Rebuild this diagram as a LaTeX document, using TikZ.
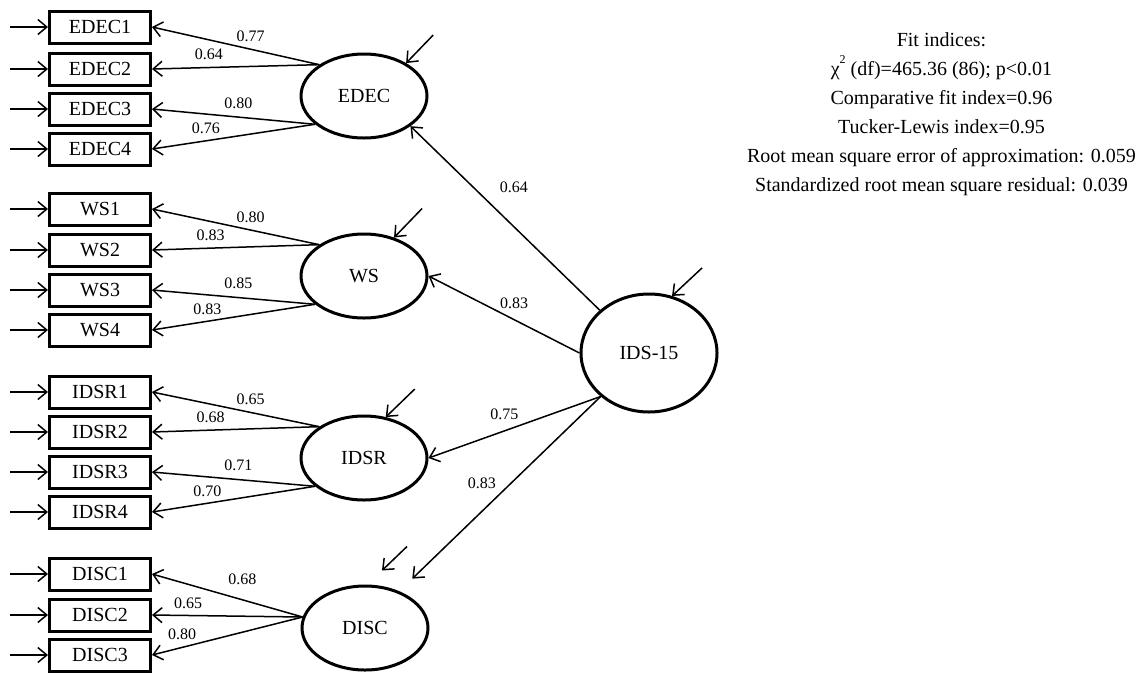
\documentclass[tikz,border=0pt]{standalone}
\usepackage{fontspec}
\setmainfont{Liberation Serif}
\usetikzlibrary{arrows.meta,calc,positioning,shapes}
\tikzstyle{indicator}=[
  draw, rectangle, line width=3pt,
  minimum width=101pt, minimum height=32pt, inner sep=0pt,
  font=\fontsize{20}{24}\selectfont,
]
\tikzstyle{factor}=[
  draw, ellipse, line width=3pt,
  minimum width=126pt, minimum height=84pt, inner sep=0pt,
  font=\fontsize{20}{24}\selectfont,
]
\tikzstyle{arrow}=[
  ->, line width=1.5pt,
]
\tikzstyle{coef}=[
  font=\fontsize{16}{18}\selectfont, inner sep=2pt,
]
\tikzset{
  >={Straight Barb[length=9pt,width=15pt]},
}
\begin{document}
\begin{tikzpicture}[x=1pt,y=-1pt]
  \useasboundingbox (0,0) rectangle (1137,673);
  % observed items
  \foreach \name/\ypos in {EDEC1/27,EDEC2/69,EDEC3/109,EDEC4/149,
    WS1/209,WS2/250,WS3/290,WS4/330,
    IDSR1/392,IDSR2/432,IDSR3/472,IDSR4/512,
    DISC1/574,DISC2/615,DISC3/655}{
    \node[indicator] (\name) at (100,\ypos) {\name};
    \coordinate (in\name) at ([xshift=-38pt]\name.west);
    \draw[arrow] (in\name) -- (\name.west);
  }
  % latent factors
  \node[factor] (EDEC) at (364,96) {EDEC};
  \node[factor] (WS) at (364,276) {WS};
  \node[factor] (IDSR) at (364,458) {IDSR};
  \node[factor] (DISC) at (365,628) {DISC};
  \node[factor, minimum width=136pt, minimum height=118pt] (IDS) at (649,353) {IDS-15};
  % loadings
  \foreach \f/\i/\a/\v/\p/\d in {EDEC/EDEC1/145/0.77/0.41/5pt,
    EDEC/EDEC2/145/0.64/0.66/5pt, EDEC/EDEC3/210/0.80/0.47/6pt,
    EDEC/EDEC4/210/0.76/0.67/4pt,
    WS/WS1/145/0.80/0.41/5pt, WS/WS2/145/0.83/0.65/5pt,
    WS/WS3/210/0.85/0.47/6pt, WS/WS4/210/0.83/0.66/4pt,
    IDSR/IDSR1/145/0.65/0.41/5pt, IDSR/IDSR2/145/0.68/0.65/5pt,
    IDSR/IDSR3/210/0.71/0.47/6pt, IDSR/IDSR4/210/0.70/0.66/4pt,
    DISC/DISC1/170/0.68/0.40/12pt, DISC/DISC2/170/0.65/0.76/4pt,
    DISC/DISC3/170/0.80/0.80/5pt}{
    \draw[arrow] (\f.\a) -- node[coef, pos=\p, above=\d] {\v} (\i.east);
  }
  % second order
  \draw[arrow] (IDS.139) -- node[coef, pos=0.56, xshift=20pt, yshift=20pt] {0.64} (EDEC.327);
  \draw[arrow] (IDS.180) -- node[coef, pos=0.48, xshift=7pt, yshift=13pt] {0.83} (WS.0);
  \draw[arrow] (IDS.222) -- node[coef, pos=0.53, xshift=-5pt, yshift=15pt] {0.75} (IDSR.0);
  \draw[arrow, shorten >=18pt] (IDS.222) -- node[coef, pos=0.52, xshift=-14pt, yshift=14pt] {0.83} (DISC.47);
  % disturbances
  \coordinate (eEDEC) at ([shift={(27,-28)}]EDEC.38);
  \coordinate (eWS) at ([shift={(28,-29)}]WS.52);
  \coordinate (eIDSR) at ([shift={(29,-28)}]IDSR.62);
  \coordinate (eIDS) at ([shift={(30,-28)}]IDS.68);
  \coordinate (eDISC) at ([shift={(42,-38)}]DISC.north);
  \coordinate (tDISC) at ([shift={(17,-14)}]DISC.north);
  \draw[arrow] (eEDEC) -- (EDEC.38);
  \draw[arrow] (eWS) -- (WS.52);
  \draw[arrow] (eIDSR) -- (IDSR.62);
  \draw[arrow] (eIDS) -- (IDS.68);
  \draw[arrow] (eDISC) -- (tDISC);
  % fit indices
  \node[align=center, font=\fontsize{20}{29}\selectfont] (fit) at (941.5,114) {Fit indices:\\
    χ\raisebox{0.6em}{\fontsize{12}{12}\selectfont 2} (df)=465.36 (86); p<0.01\\
    Comparative fit index=0.96\\
    Tucker-Lewis index=0.95\\
    Root mean square error of approximation: 0.059\\
    Standardized root mean square residual: 0.039};
\end{tikzpicture}
\end{document}
